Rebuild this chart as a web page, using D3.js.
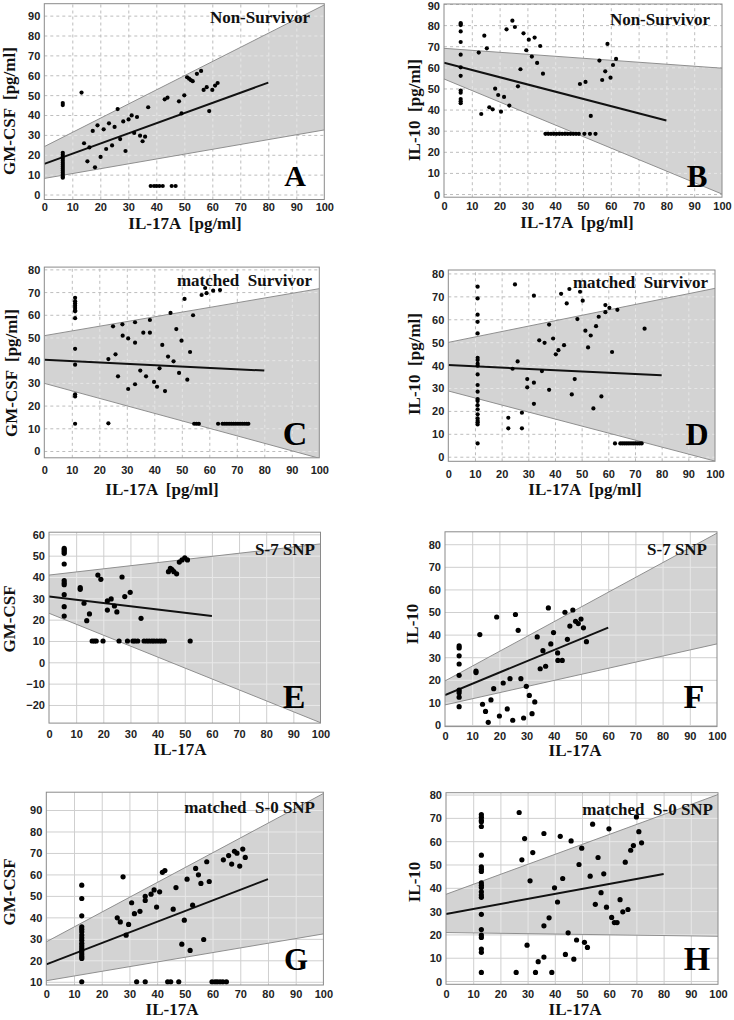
<!DOCTYPE html>
<html><head><meta charset="utf-8">
<script src="https://cdn.jsdelivr.net/npm/d3@7"></script>
<style>body{margin:0;background:#fff}</style>
</head><body>
<svg id="chart" width="734" height="1020"></svg>
<script>
// ---------------- DATA ----------------
const xTicks = [0,10,20,30,40,50,60,70,80,90,100];
const yTicksA = [0,10,20,30,40,50,60,70,80,90];
const yTicksB = [0,10,20,30,40,50,60,70,80,90];
const yTicksC = [0,10,20,30,40,50,60,70,80];
const yTicksD = [0,10,20,30,40,50,60,70,80];
const yTicksE = [-20,-10,0,10,20,30,40,50,60];
const yTicksF = [0,10,20,30,40,50,60,70,80];
const yTicksG = [10,20,30,40,50,60,70,80,90];
const yTicksH = [0,10,20,30,40,50,60,70,80];

const titles = ["Non-Survivor","Non-Survivor","matched  Survivor","matched  Survivor","S-7 SNP","S-7 SNP","matched  S-0 SNP","matched  S-0 SNP"];
const letters = ["A","B","C","D","E","F","G","H"];
const xLabels = ["IL-17A  [pg/ml]","IL-17A  [pg/ml]","IL-17A  [pg/ml]","IL-17A  [pg/ml]","IL-17A","IL-17A","IL-17A","IL-17A"];
const yLabels = ["GM-CSF  [pg/ml]","IL-10  [pg/ml]","GM-CSF  [pg/ml]","IL-10  [pg/ml]","GM-CSF","IL-10","GM-CSF","IL-10"];

// regression fit: [y at x=0, y at x=fitEnd], fitEnd
const fitA = [15.4, 56.3], fitB = [62.2, 34.8], fitC = [40.2, 35.4], fitD = [40.0, 35.6];
const fitE = [30.8, 21.7], fitF = [13.3, 43.1], fitG = [18.1, 57.8], fitH = [28.8, 45.9];
const fitEnds = [80, 80, 80, 80, 60, 60, 80, 80];
// prediction band: [y at x=0, y at x=100]
const upA = [24.1, 95.4], loA = [8.1, 32.5];
const upB = [69.0, 59.6], loB = [54.5, 0.0];
const upC = [50.8, 71.5], loC = [29.8, -3.2];
const upD = [49.9, 73.5], loD = [28.7, -1.9];
const upE = [40.9, 55.5], loE = [23.0, -28.3];
const upF = [19.5, 84.9], loF = [8.9, 35.9];
const upG = [28.6, 97.7], loG = [10.5, 32.3];
const upH = [37.2, 80.0], loH = [20.8, 19.2];

// scatter points: vertical column (x, ys) + other [x,y]
const colXA = 6.6, colYA = [46,45,21,20,19,18,17,16,15,14,13,12,11,10,9,8.5];
const ptsA = [[13.3,51.3],[14.2,25.8],[15.4,16.7],[16.1,23.7],[17.3,32],[18.1,13.7],[19,34.8],[20.1,18.9],[21.2,32.8],[22.1,22.9],[23.1,35.8],[24.2,24.7],[25.1,34],[26.2,43],[27.1,27.9],[28.2,36.8],[29,21.9],[30.1,37.8],[31.2,39.8],[32.1,31],[33.1,39],[34.2,29.6],[35.1,26.8],[36,29.1],[37.1,43.9],[38,4.3],[39.2,4.3],[40.1,4.3],[41.1,4.3],[42.3,4.3],[45.5,4.3],[46.9,4.3],[43,47.9],[44,48.7],[48.1,46.9],[49,40.8],[50,49.9],[51,59],[51.7,58.3],[52.3,57.6],[53,57],[54.5,60.7],[56,62.2],[56.9,52.6],[58,54],[58.9,42],[60,52.6],[61,54.8],[61.9,56.1]];

const colXB = 6.0, colYB = [81,80.5,80,77,72,66,60,56,49,48,45,44,43];
const ptsB = [[12.5,67],[13.4,37.9],[14.5,75],[15.4,69],[16.3,41.1],[17.5,40.1],[18.4,49.9],[19.5,46.9],[20.5,39],[21.6,46],[22.5,78],[23.5,41.9],[24.6,82.1],[25.5,79.1],[26.6,51],[27.5,59.1],[28.6,76.1],[29.6,68.1],[30.5,73.1],[31.6,65.1],[32.6,74.1],[33.5,62.1],[34.6,70.1],[35.6,57],[36.5,28.5],[37.5,28.5],[38.5,28.5],[39.5,28.5],[40.5,28.5],[41.5,28.5],[42.5,28.5],[43.5,28.5],[44.5,28.5],[45.5,28.5],[46.5,28.5],[47.5,28.5],[48.5,28.5],[50.5,28.5],[52.5,28.5],[54.5,28.5],[48.9,52.1],[50.9,53.1],[52.8,37],[55.9,63.2],[56.9,54],[58,58.1],[58.8,71.1],[59.9,55.1],[60.8,61.1],[61.9,64]];

const colXC = 11.2, colYC = [67.5,66,65,64,63,62,61.5,58.5,45,38,25,24,12];
const ptsC = [[23.3,12.2],[23.3,40.5],[25,54.9],[25.9,42.6],[26.8,32.9],[28.4,55.8],[28.5,50.8],[30.5,49.6],[30.5,27.3],[33,56.7],[33,47.7],[33,29.4],[34.9,35.4],[36,52.1],[37,32.9],[38.4,57.7],[38.4,52.1],[39.9,30.4],[41,28.3],[41.9,36.4],[42.9,46.7],[43.9,26.4],[45,41.6],[45.9,60.8],[47,39.5],[48,53.7],[49,34.4],[49.9,48.6],[51,67],[52,31.4],[53,43.6],[54.1,59.8],[54.5,12],[55.3,12],[56.2,12],[63.2,12],[64.8,12],[65.6,12],[66.4,12],[67.2,12],[68,12],[68.8,12],[69.6,12],[70.4,12],[71.2,12],[72,12],[72.8,12],[73.6,12],[74.2,12],[57.2,68.7],[59,69.5],[61.4,70.6],[63.9,70.9],[58.5,71.8]];

const colXD = 11.0, colYD = [74.2,69.1,62,58.9,53.8,43.2,42.2,40.6,39.7,35.9,31.3,28.4,25.2,24.3,22.5,20.7,18.5,16.7,15.7,15,14.1,5.8];
const ptsD = [[22.5,17],[22.5,12.4],[24.1,38.4],[25,75.2],[26,41.6],[27.6,19.2],[27.6,12.4],[29.6,33.9],[29.6,30.3],[32.1,70.3],[32.1,32.3],[32.1,23.1],[34.1,50.8],[35.1,37.4],[36.1,49.7],[37.8,57.7],[37.8,29.2],[39.3,51.6],[40.3,44.7],[41.3,46.5],[42.3,71.1],[43.4,48.7],[44.4,66.9],[45.4,73.2],[46.3,27.2],[47.4,33.9],[48.4,60.1],[49.4,72],[50.4,68.1],[51.4,55],[52.4,47.7],[53.4,52.9],[54.4,21.1],[55.4,57],[56.4,61.1],[57.4,26.3],[58.9,63.1],[58.9,66.2],[60.4,65],[61.4,45.7],[63.4,64.1],[73.6,55.9],[62.5,5.8],[64.5,5.8],[65.3,5.8],[66.1,5.8],[66.9,5.8],[67.7,5.8],[68.5,5.8],[69.3,5.8],[70.1,5.8],[70.9,5.8],[71.7,5.8],[72.5,5.8]];

const colXE = 5.6, colYE = [53.4,52.7,51.9,51.1,46.1,38.3,37.3,36.4,31.7,26.1,21.7];
const ptsE = [[11.5,35],[11.5,34.2],[12.9,27.7],[13.9,19.5],[14.9,22.7],[15.9,10],[16.7,10],[17.4,10],[19.9,10],[25.8,10],[28.9,10],[30.9,10],[31.7,10],[32.7,10],[35,10],[36,10],[36.9,10],[37.9,10],[38.7,10],[39.7,10],[40.7,10],[41.5,10],[42.5,10],[52,10],[18,40.9],[19.1,38.9],[21.5,28.8],[21.5,24.5],[22.9,29.7],[24.1,26.4],[25,23.6],[26.9,40],[27.9,30.8],[29.9,32.8],[33.9,20.6],[44,42.5],[44.7,44],[45.3,43.5],[46,42.5],[47,41.5],[48,47],[49,48],[50,49],[51,48]];

const colXF = 5.2, colYF = [35,34.1,30.6,27,22,15.4,14.3,12.3,8.1];
const ptsF = [[11.4,23.9],[11.4,23.2],[12.8,40],[13.8,9.2],[14.9,6],[15.9,1.2],[16.9,11.1],[17.9,16.1],[19,47.8],[20,4],[21.4,18.6],[22.9,7.1],[23.9,20.5],[24.9,2.1],[25.9,48.9],[26.9,41.9],[27.9,20.5],[28.9,3.1],[29.9,17.1],[31,13.1],[32,5],[33,10.2],[33.9,39],[35,24.9],[36,32.9],[37,26],[38,51.8],[38.9,35.9],[39.9,40.9],[41.4,31.9],[41.5,28.6],[43.1,28.6],[44.1,49.9],[45,37.9],[45.9,43.8],[47,50.9],[48,45.9],[49,44.9],[50,46.9],[50.9,43],[52,36.9]];

const colXG = 12.8, colYG = [55,48.8,40.7,35.6,34.5,33.3,31.8,30.5,29.3,27.9,26.8,25.8,24.9,24,22.9,21.8,20.9,10];
const ptsG = [[25.6,39.8],[26.7,37.9],[27.7,58.9],[28.8,31.7],[29.7,36.7],[30.8,46.8],[31.8,41.7],[32.6,10],[33.8,42.8],[35.7,47.9],[35.7,49.8],[35.7,10],[37.8,50.8],[38.9,52.8],[39.8,44.8],[40.9,51.9],[41.9,61],[42.8,61.8],[43.8,10],[44.9,10],[47.8,10],[45.8,43.8],[46.8,53.9],[48.9,27.5],[49.8,38.7],[50.8,57.8],[51.9,24.6],[52.8,45.7],[53.9,62.8],[54.9,59.8],[55.8,55.8],[56.8,29.7],[57.9,65.9],[58.8,56.7],[59.8,10],[60.9,10],[61.7,10],[62.7,10],[63.7,10],[65,10],[63.9,66.8],[65.8,68.8],[66.9,64.8],[67.9,70.8],[68.8,69.9],[69.8,63.9],[70.9,71.8],[71.8,67.9]];

const colXH = 13.0, colYH = [71.4,70.3,69,68.3,66.3,54,49,48,47,42.1,41.1,40.1,38.3,36.9,35.9,28.6,22.1,19.7,18.7,13.7,12.3,3.7];
const ptsH = [[25.8,3.7],[26.9,72.3],[27.9,52],[28.9,61.1],[29.8,15.4],[30.9,43],[31.9,55.1],[32.9,3.7],[33.9,8.3],[36,10.3],[36,23.7],[36,63.3],[37.9,27.1],[38.9,3.7],[39.9,40],[41,33.9],[42,62.1],[42.9,44],[43.9,11.4],[44.9,20.7],[46,60.1],[47,9.4],[48,17.6],[48.9,50],[49.9,57],[50.9,16.6],[52,14.4],[53,45],[53.9,67.3],[54.9,32.9],[55.9,53],[57,37.9],[58,46],[59,31.7],[59.9,65.3],[60.9,27.3],[61.9,25.1],[62.9,25.1],[64,34.9],[65,29.7],[65.9,51],[66.9,30.7],[67.9,56.1],[68.9,58.1],[70,70.4],[70.9,64.1],[71.9,59.3]];

// ---------------- LAYOUT ----------------
const layout = [
  {l:44.3,r:324.3,t:3.7,b:199.5,yd:[-2.5,96],dash:true,r0:2.1,tx:310,ty:23,lx:295,ly:186,lf:30,ylx:15,yly:111,xlx:185,xly:229,tky:211},
  {l:444,r:722,t:4,b:197.2,yd:[-1.5,90],dash:true,r0:2.1,tx:710,ty:25,lx:697,ly:187,lf:31,ylx:420,yly:110,xlx:577,xly:228,tky:210},
  {l:44.3,r:319.3,t:267.1,b:457.8,yd:[-3,81],dash:true,r0:2.1,tx:312,ty:286,lx:295,ly:445,lf:34,ylx:17,yly:373,xlx:162,xly:495,tky:474},
  {l:448.3,r:715,t:270,b:461.3,yd:[-2,81.5],dash:true,r0:2.1,tx:708,ty:288,lx:697,ly:445,lf:32,ylx:420,yly:364,xlx:585,xly:495,tky:478},
  {l:49,r:320.5,t:532.2,b:723.1,yd:[-28.5,61],dash:false,r0:2.6,tx:315,ty:555,lx:294,ly:708,lf:34,ylx:15,yly:619,xlx:180,xly:755,tky:738},
  {l:445,r:717,t:531.8,b:726.6,yd:[-0.7,85.5],dash:false,r0:2.6,tx:707,ty:555,lx:694,ly:708,lf:34,ylx:418,yly:624,xlx:575,xly:756,tky:740},
  {l:46.3,r:323.4,t:792.2,b:985,yd:[8.5,98.3],dash:false,r0:2.6,tx:315,ty:813,lx:296,ly:970,lf:31,ylx:15,yly:892,xlx:172,xly:1015,tky:998},
  {l:446,r:718,t:792.7,b:984.3,yd:[-1.4,80.8],dash:false,r0:2.6,tx:713,ty:815,lx:697,ly:970,lf:34,ylx:420,yly:882,xlx:575,xly:1015,tky:998}
];

const yTicksAll = [yTicksA,yTicksB,yTicksC,yTicksD,yTicksE,yTicksF,yTicksG,yTicksH];
const fits = [fitA,fitB,fitC,fitD,fitE,fitF,fitG,fitH];
const ups = [upA,upB,upC,upD,upE,upF,upG,upH];
const los = [loA,loB,loC,loD,loE,loF,loG,loH];
const colXs = [colXA,colXB,colXC,colXD,colXE,colXF,colXG,colXH];
const colYs = [colYA,colYB,colYC,colYD,colYE,colYF,colYG,colYH];
const ptsAll = [ptsA,ptsB,ptsC,ptsD,ptsE,ptsF,ptsG,ptsH];

const svg = d3.select("#chart");
const defs = svg.append("defs");
const serif = "'Liberation Serif','Times New Roman',serif";
const sans = "'Liberation Sans',Arial,sans-serif";

layout.forEach((L, i) => {
  const x = d3.scaleLinear().domain([0,100]).range([L.l, L.r]);
  const y = d3.scaleLinear().domain(L.yd).range([L.b, L.t]);
  const g = svg.append("g");
  const clipId = "clip" + i, bandClip = "band" + i;
  defs.append("clipPath").attr("id", clipId).append("rect")
    .attr("x", L.l).attr("y", L.t).attr("width", L.r - L.l).attr("height", L.b - L.t);

  const up = ups[i], lo = los[i];
  const poly = [[0, lo[0]], [100, lo[1]], [100, up[1]], [0, up[0]]];
  const polyD = "M" + poly.map(p => [x(p[0]), y(p[1])].join(",")).join("L") + "Z";
  defs.append("clipPath").attr("id", bandClip).append("path").attr("d", polyD);

  const inner = g.append("g").attr("clip-path", `url(#${clipId})`);

  const drawGrid = (parent, color) => {
    const gx = parent.append("g").attr("transform", `translate(0,${L.b})`)
      .call(d3.axisBottom(x).tickValues(xTicks.slice(1, -1)).tickSize(-(L.b - L.t)).tickFormat(""));
    const gy = parent.append("g").attr("transform", `translate(${L.l},0)`)
      .call(d3.axisLeft(y).tickValues(yTicksAll[i]).tickSize(-(L.r - L.l)).tickFormat(""));
    [gx, gy].forEach(a => {
      a.select(".domain").remove();
      a.selectAll("line").attr("stroke", color).attr("stroke-width", 1)
        .attr("stroke-dasharray", L.dash ? "3,3" : null);
    });
  };

  drawGrid(inner, L.dash ? "#bdbdbd" : "#cfcfcf");
  inner.append("path").attr("d", polyD).attr("fill", "#d3d3d3");
  drawGrid(inner.append("g").attr("clip-path", `url(#${bandClip})`), L.dash ? "#e6e6e6" : "#e8e8e8");
  [up, lo].forEach(e => {
    inner.append("line").attr("x1", x(0)).attr("y1", y(e[0])).attr("x2", x(100)).attr("y2", y(e[1]))
      .attr("stroke", "#8f8f8f").attr("stroke-width", 1);
  });

  const f = fits[i];
  inner.append("line").attr("x1", x(0)).attr("y1", y(f[0])).attr("x2", x(fitEnds[i])).attr("y2", y(f[1]))
    .attr("stroke", "#111").attr("stroke-width", 2);

  const pts = colYs[i].map(v => [colXs[i], v]).concat(ptsAll[i]);
  inner.selectAll("circle").data(pts).enter().append("circle")
    .attr("cx", d => x(d[0])).attr("cy", d => y(d[1])).attr("r", L.r0).attr("fill", "#000");

  g.append("rect").attr("x", L.l).attr("y", L.t).attr("width", L.r - L.l).attr("height", L.b - L.t)
    .attr("fill", "none").attr("stroke", "#8a8a8a").attr("stroke-width", 1);

  const ax = g.append("g").attr("transform", `translate(0,${L.tky})`)
    .call(d3.axisBottom(x).tickValues(xTicks).tickSize(0).tickPadding(0));
  ax.select(".domain").remove();
  ax.selectAll("text").attr("dy", 0).attr("y", 0).attr("font-family", sans).attr("font-weight", "bold")
    .attr("font-size", 11).attr("fill", "#222");
  const ay = g.append("g").attr("transform", `translate(${L.l - 4},0)`)
    .call(d3.axisLeft(y).tickValues(yTicksAll[i]).tickSize(0).tickPadding(0));
  ay.select(".domain").remove();
  ay.selectAll("text").attr("font-family", sans).attr("font-weight", "bold")
    .attr("font-size", 11).attr("fill", "#222").attr("dy", "0.36em");
  ay.selectAll(".tick").each(function(d) {
    if (y(d) < 6) d3.select(this).select("text").attr("y", 6 - y(d));
  });

  g.append("text").attr("x", L.tx).attr("y", L.ty).attr("text-anchor", "end")
    .style("white-space", "pre")
    .attr("font-family", serif).attr("font-weight", "bold").attr("font-size", 17).attr("fill", "#111")
    .text(titles[i]);
  g.append("text").attr("x", L.lx).attr("y", L.ly).attr("text-anchor", "middle")
    .attr("font-family", serif).attr("font-weight", "bold").attr("font-size", L.lf).attr("fill", "#000")
    .text(letters[i]);
  g.append("text").attr("x", L.xlx).attr("y", L.xly).attr("text-anchor", "middle")
    .style("white-space", "pre")
    .attr("font-family", serif).attr("font-weight", "bold").attr("font-size", i >= 4 ? 17 : 17).attr("fill", "#111")
    .text(xLabels[i]);
  g.append("text").attr("transform", `translate(${L.ylx},${L.yly}) rotate(-90)`).attr("text-anchor", "middle")
    .style("white-space", "pre")
    .attr("font-family", serif).attr("font-weight", "bold").attr("font-size", 17).attr("fill", "#111")
    .text(yLabels[i]);
});
</script>
</body></html>
